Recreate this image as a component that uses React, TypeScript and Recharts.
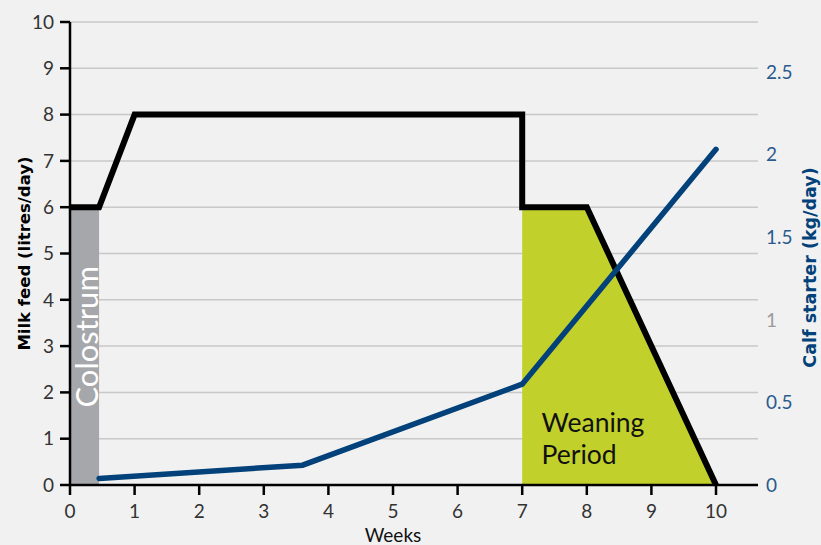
import React from 'react';
import { ComposedChart, Line, Area, XAxis, YAxis, CartesianGrid, Scatter, Label } from 'recharts';

const weekTicks = [0, 1, 2, 3, 4, 5, 6, 7, 8, 9, 10];
const milkTicks = [0, 1, 2, 3, 4, 5, 6, 7, 8, 9, 10];
const starterTicks = [0, 0.5, 1, 1.5, 2, 2.5];

const milkFeed = [
  { week: 0, milk: 6 },
  { week: 0.45, milk: 6 },
  { week: 1, milk: 8 },
  { week: 7, milk: 8 },
  { week: 7, milk: 6 },
  { week: 8, milk: 6 },
  { week: 10, milk: 0 },
];
const colostrumPeriod = [
  { week: 0, milk: 6 },
  { week: 0.45, milk: 6 },
];
const weaningPeriod = [
  { week: 7, milk: 6 },
  { week: 8, milk: 6 },
  { week: 10, milk: 0 },
];
const calfStarter = [
  { week: 0.45, starter: 0.04 },
  { week: 3.6, starter: 0.12 },
  { week: 7, starter: 0.61 },
  { week: 10, starter: 2.03 },
];
const colostrumLabel = [{ week: 0.25, milk: 3.2, text: 'Colostrum' }];
const weaningLabel = [{ week: 7.3, milk: 1.15, lines: ['Weaning', 'Period'] }];

const FONT = 'Lato, "Open Sans", sans-serif';
const TITLE_FONT = '"DejaVu Sans", Lato, sans-serif';
const BG = '#f1f1f1';
const GRID = '#c8c8c8';
const BLUE = '#024179';
const GREEN = '#c2d02b';
const GREY = '#a6a7ab';

const RightTick = (props: any) => {
  const { x, y, payload } = props;
  const isOne = payload.value === 1;
  return (
    <text x={x} y={y} dy={7} textAnchor="start" fontSize={19} fontFamily={FONT} fill={isOne ? '#9a9a9a' : '#2b5a8c'}>
      {payload.value}
    </text>
  );
};

const ColostrumShape = (props: any) => {
  const { cx, cy, payload } = props;
  return (
    <text
      x={cx}
      y={cy}
      transform={`rotate(-90 ${cx} ${cy})`}
      textAnchor="middle"
      dominantBaseline="central"
      fontSize={31}
      fontFamily={FONT}
      fill="#ffffff"
    >
      {payload.text}
    </text>
  );
};

const WeaningShape = (props: any) => {
  const { cx, cy, payload } = props;
  return (
    <g>
      {payload.lines.map((l: string, i: number) => (
        <text key={i} x={cx} y={cy + i * 32} fontSize={26.5} fontFamily={FONT} fill="#111111">
          {l}
        </text>
      ))}
    </g>
  );
};

export default function App() {
  return (
    <div style={{ position: 'absolute', left: 0, top: 0, width: 821, height: 545, background: BG }}>
      <ComposedChart width={821} height={545} margin={{ top: 22, right: 0, bottom: 0, left: 0 }}>
        <CartesianGrid yAxisId="left" horizontal vertical={false} stroke={GRID} strokeWidth={1.5} />
        <XAxis
          type="number"
          dataKey="week"
          domain={[0, 10.65]}
          ticks={weekTicks}
          allowDataOverflow
          height={60}
          tickSize={10}
          tickMargin={10}
          axisLine={{ stroke: '#000', strokeWidth: 2.5 }}
          tickLine={{ stroke: '#000', strokeWidth: 2.5 }}
          tick={{ fill: '#333', fontSize: 19, fontFamily: FONT }}
        >
          <Label
            content={(p: any) => {
              const vb = p.viewBox;
              return (
                <text x={vb.x + 323} y={vb.y + 57} textAnchor="middle" fontSize={19} fontFamily={FONT} fill="#111">
                  Weeks
                </text>
              );
            }}
          />
        </XAxis>
        <YAxis
          yAxisId="left"
          type="number"
          domain={[0, 10]}
          ticks={milkTicks}
          width={70}
          tickSize={10}
          tickMargin={6}
          axisLine={{ stroke: '#000', strokeWidth: 2.5 }}
          tickLine={{ stroke: '#000', strokeWidth: 2.5 }}
          tick={{ fill: '#333', fontSize: 19, fontFamily: FONT }}
        >
          <Label
            content={(p: any) => {
              const vb = p.viewBox;
              const cx = 24;
              const cy = vb.y + vb.height / 2;
              return (
                <text
                  x={cx}
                  y={cy}
                  transform={`rotate(-90 ${cx} ${cy})`}
                  textAnchor="middle"
                  dominantBaseline="central"
                  fontSize={16.5}
                  fontWeight="bold"
                  fontFamily={TITLE_FONT}
                  fill="#000"
                >
                  Milk feed (litres/day)
                </text>
              );
            }}
          />
        </YAxis>
        <YAxis
          yAxisId="right"
          orientation="right"
          type="number"
          domain={[0, 2.8]}
          ticks={starterTicks}
          width={63}
          axisLine={false}
          tickLine={false}
          tickSize={0}
          tickMargin={8}
          tick={<RightTick />}
        >
          <Label
            content={(p: any) => {
              const vb = p.viewBox;
              const cx = 810;
              const cy = vb.y + vb.height / 2 + 14;
              return (
                <text
                  x={cx}
                  y={cy}
                  transform={`rotate(-90 ${cx} ${cy})`}
                  textAnchor="middle"
                  dominantBaseline="central"
                  fontSize={17.5}
                  fontWeight="bold"
                  fontFamily={TITLE_FONT}
                  fill={BLUE}
                >
                  Calf starter (kg/day)
                </text>
              );
            }}
          />
        </YAxis>
        <Area
          yAxisId="left"
          data={colostrumPeriod}
          dataKey="milk"
          type="linear"
          stroke="none"
          fill={GREY}
          fillOpacity={1}
          isAnimationActive={false}
        />
        <Area
          yAxisId="left"
          data={weaningPeriod}
          dataKey="milk"
          type="linear"
          stroke="none"
          fill={GREEN}
          fillOpacity={1}
          isAnimationActive={false}
        />
        <Scatter
          yAxisId="left"
          data={colostrumLabel}
          dataKey="milk"
          shape={<ColostrumShape />}
          isAnimationActive={false}
        />
        <Scatter
          yAxisId="left"
          data={weaningLabel}
          dataKey="milk"
          shape={<WeaningShape />}
          isAnimationActive={false}
        />
        <Line
          yAxisId="left"
          data={milkFeed}
          dataKey="milk"
          type="linear"
          stroke="#000"
          strokeWidth={6}
          strokeLinejoin="miter"
          dot={false}
          activeDot={false}
          isAnimationActive={false}
        />
        <Line
          yAxisId="right"
          data={calfStarter}
          dataKey="starter"
          type="linear"
          stroke={BLUE}
          strokeWidth={5.5}
          strokeLinecap="round"
          dot={false}
          activeDot={false}
          isAnimationActive={false}
        />
      </ComposedChart>
    </div>
  );
}
